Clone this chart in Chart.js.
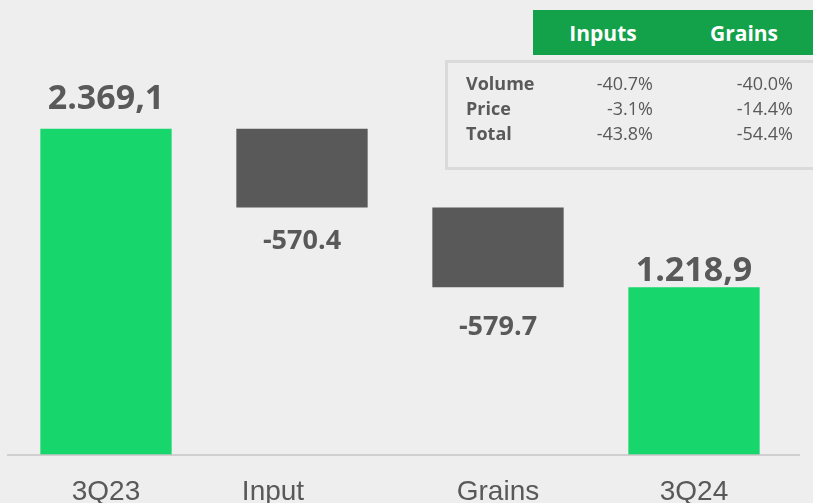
<!DOCTYPE html>
<html>
<head>
<meta charset="utf-8">
<script src="https://cdn.jsdelivr.net/npm/chart.js@4.4.1/dist/chart.umd.min.js"></script>
<style>
  html, body { margin: 0; padding: 0; background: #eeeeee; }
  #wrap { position: relative; width: 813px; height: 503px; overflow: hidden; }
  #c { position: absolute; left: 0; top: 0; }
  .hdr { position: absolute; left: 533px; top: 10px; width: 280px; height: 45px; background: #13a14a; }
  .hdr span { position: absolute; top: 9px; line-height: 28px; color: #fff; font: bold 21px "Open Sans", sans-serif; transform: translateX(-50%); }
  .box { position: absolute; left: 445px; top: 60px; width: 368px; height: 110px; border: 3px solid #dadada; box-sizing: border-box; border-right: none; }
  .row { position: absolute; font: 18px "Open Sans", sans-serif; color: #595959; line-height: 20px; }
  .row b { position: absolute; left: 466px; }
  .row .v { position: absolute; text-align: right; white-space: nowrap; }
</style>
</head>
<body>
<div id="wrap">
  <canvas id="c" width="813" height="503"></canvas>
  <div class="hdr" id="hdr"></div>
  <div class="box"></div>
  <div id="tbl"></div>
</div>
<script>
/* ---------- data ---------- */
const categories = ['3Q23', 'Input', 'Grains', '3Q24'];
const values = [2369.1, -570.4, -579.7, 1218.9];
const isTotal = [true, false, false, true];
const valueLabels = ['2.369,1', '-570.4', '-579.7', '1.218,9'];

const tableCols = ['Inputs', 'Grains'];
const tableRows = ['Volume', 'Price', 'Total'];
const inputsPct = ['-40.7%', '-3.1%', '-43.8%'];
const grainsPct = ['-40.0%', '-14.4%', '-54.4%'];

/* ---------- waterfall ranges ---------- */
let running = 0;
const ranges = values.map((v, i) => {
  if (isTotal[i]) { running = v; return [0, v]; }
  const start = running;
  running = running + v;
  return [Math.min(start, running), Math.max(start, running)];
});

const GREEN = '#17d66b';
const GREY = '#595959';

/* ---------- table (html) ---------- */
const hdr = document.getElementById('hdr');
[70, 211].forEach((cx, i) => {
  const s = document.createElement('span');
  s.style.left = cx + 'px';
  s.textContent = tableCols[i];
  hdr.appendChild(s);
});
const tbl = document.getElementById('tbl');
tableRows.forEach((r, i) => {
  const row = document.createElement('div');
  row.className = 'row';
  row.style.top = (73 + i * 25) + 'px';
  row.style.left = '0px';
  row.innerHTML = `<b>${r}</b>` +
    `<span class="v" style="right:-653px">${inputsPct[i]}</span>` +
    `<span class="v" style="right:-793px">${grainsPct[i]}</span>`;
  tbl.appendChild(row);
});

/* ---------- labels plugin ---------- */
const waterfallLabels = {
  id: 'waterfallLabels',
  afterDatasetsDraw(chart) {
    const { ctx, scales } = chart;
    const x = scales.x, y = scales.y;
    ctx.save();

    // baseline
    const y0 = y.getPixelForValue(0);
    ctx.strokeStyle = '#c4c4c4';
    ctx.lineWidth = 1.5;
    ctx.beginPath();
    ctx.moveTo(7, y0);
    ctx.lineTo(800, y0);
    ctx.stroke();

    ctx.fillStyle = GREY;
    ctx.textAlign = 'center';
    ctx.textBaseline = 'alphabetic';

    values.forEach((v, i) => {
      const xp = x.getPixelForValue(i);
      if (isTotal[i]) {
        ctx.font = 'bold 34px "Open Sans", sans-serif';
        const gap = i === 0 ? 20 : 6;
        ctx.fillText(valueLabels[i], xp, y.getPixelForValue(ranges[i][1]) - gap);
      } else {
        ctx.font = 'bold 27px "Open Sans", sans-serif';
        const gap = i === 1 ? 42 : 48;
        ctx.fillText(valueLabels[i], xp, y.getPixelForValue(ranges[i][0]) + gap);
      }
    });

    // category labels
    ctx.font = '28px "Liberation Sans", sans-serif';
    categories.forEach((c, i) => {
      const shift = i === 1 ? -29 : 0;
      ctx.fillText(c, x.getPixelForValue(i) + shift, 500);
    });

    ctx.restore();
  }
};

new Chart(document.getElementById('c'), {
  type: 'bar',
  data: {
    labels: categories,
    datasets: [{
      data: ranges,
      backgroundColor: values.map((v, i) => isTotal[i] ? GREEN : GREY),
      borderWidth: 0,
      categoryPercentage: 1,
      barPercentage: 0.67
    }]
  },
  options: {
    responsive: false,
    animation: false,
    layout: { padding: { left: 8, right: 21, top: 42, bottom: 48 } },
    plugins: {
      legend: { display: false },
      tooltip: { enabled: false },
      title: { display: false }
    },
    scales: {
      x: { display: false },
      y: { display: false, min: 0, max: 3000 }
    }
  },
  plugins: [waterfallLabels]
});
</script>
</body>
</html>
